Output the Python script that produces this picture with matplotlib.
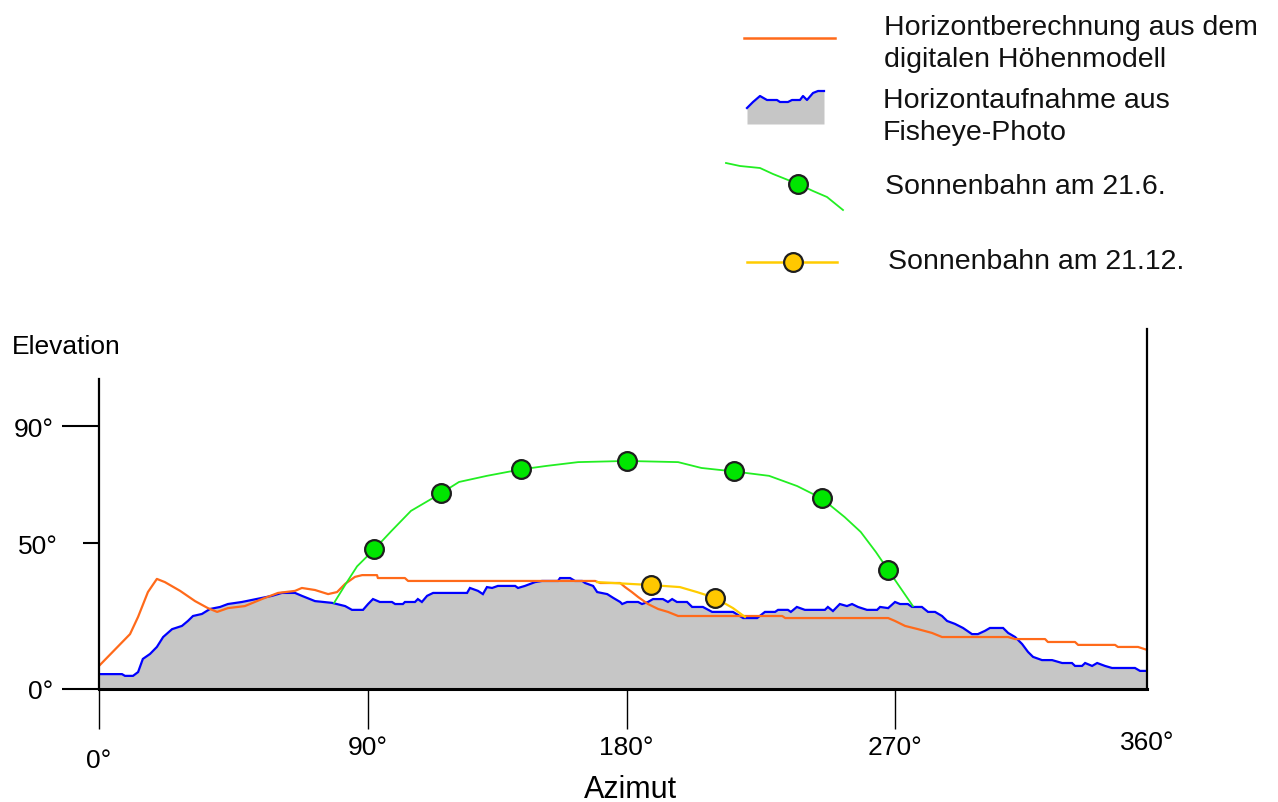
import numpy as np
import matplotlib
matplotlib.use("Agg")
import matplotlib.pyplot as plt
from matplotlib.transforms import ScaledTranslation

plt.rcParams['font.family'] = ['Liberation Sans', 'DejaVu Sans']

# ---------------- data (azimuth / elevation in degrees) ----------------
photo_az = [0, 7.7, 8.7, 11.4, 13.1, 14.7, 17.1, 19.4, 21.5, 24.5, 27.8, 29.8, 31.5, 34.5, 37.2,
            40.6, 43.2, 47.9, 51.3, 54.6, 58.0, 61.3, 65.7, 68.0, 72.4, 78.1, 82.5, 84.8, 88.5,
            90.2, 91.9, 94.3, 98.5, 99.6, 102.3, 103.0, 106.5, 107.5, 108.9, 110.7, 112.8, 124.6,
            125.6, 128.4, 130.1, 131.5, 133.3, 135.3, 141.3, 142.3, 144.7, 148.2, 150.6, 156.2,
            156.9, 160.4, 162.1, 164.6, 165.6, 168.4, 169.8, 173.3, 175.4, 177.8, 178.5, 180.2,
            183.9, 185.2, 187.2, 188.9, 192.2, 193.9, 195.3, 196.9, 200.3, 202.0, 205.6, 208.7,
            215.7, 219.1, 223.8, 226.4, 229.8, 230.8, 234.1, 235.1, 237.1, 239.8, 246.5, 247.5,
            249.2, 251.5, 253.9, 255.6, 257.6, 260.6, 264.0, 265.0, 267.7, 270.0, 271.8, 274.6,
            276.1, 279.6, 281.8, 284.3, 286.8, 288.6, 291.4, 294.3, 297.5, 299.6, 302.1, 303.9,
            308.6, 310.4, 312.9, 315.4, 317.5, 319.3, 322.5, 326.1, 329.7, 333.2, 334.3, 336.8,
            337.9, 340.4, 342.2, 345.0, 347.5, 355.7, 357.5, 360]
photo_el = [5.1, 5.1, 4.5, 4.5, 5.8, 10.3, 12.0, 14.4, 17.8, 20.5, 21.6, 23.3, 25.0, 25.7, 27.4,
            28.1, 29.1, 29.8, 30.5, 31.2, 31.9, 32.9, 32.9, 31.9, 30.1, 29.5, 28.4, 27.1, 27.1,
            29.1, 30.8, 29.8, 29.8, 29.1, 29.1, 29.8, 29.8, 30.8, 29.8, 31.9, 32.9, 32.9,
            34.6, 33.6, 32.5, 34.9, 34.6, 35.3, 35.3, 34.6, 35.3, 36.6, 37.0, 37.0,
            38.0, 38.0, 37.0, 37.0, 36.3, 35.3, 33.2, 32.5, 31.2, 29.8, 29.1, 29.8,
            29.8, 29.1, 29.8, 30.8, 30.8, 29.8, 30.8, 29.8, 29.8, 28.1, 28.1, 26.4,
            26.4, 24.3, 24.3, 26.4, 26.4, 27.1, 27.1, 26.4, 28.1, 27.1, 27.1, 28.1,
            26.7, 29.1, 28.4, 29.1, 28.1, 27.1, 27.1, 28.1, 27.7, 29.8, 29.1, 29.1,
            28.1, 28.1, 26.4, 26.4, 25.0, 23.3, 22.3, 20.9, 18.8, 18.8, 19.9, 20.9,
            20.9, 19.2, 17.8, 15.4, 12.7, 11.0, 9.9, 9.9, 8.9, 8.9, 7.9, 7.9,
            8.9, 7.9, 8.9, 7.9, 7.2, 7.2, 6.2, 6.2]

dem_az = [0, 10.4, 13.1, 16.4, 19.4, 22.1, 27.2, 32.2, 36.5, 39.6, 43.2, 48.9, 54.6, 60.0, 65.7,
          68.0, 72.4, 76.8, 79.8, 82.5, 85.8, 88.2, 93.3, 93.6, 103.0, 104.1, 169.1, 170.9, 177.8,
          179.5, 181.8, 183.9, 187.2, 190.6, 193.9, 197.3, 232.2, 233.2, 267.7, 270.0, 273.6,
          278.2, 283.2, 286.8, 310.4, 312.9, 323.6, 324.6, 334.3, 335.4, 348.6, 349.6, 356.8, 360]
dem_el = [7.9, 18.8, 24.7, 33.2, 37.7, 36.6, 33.6, 30.1, 27.7, 26.4, 27.7, 28.4, 30.8, 32.9, 33.6,
          34.6, 33.9, 32.5, 33.2, 36.0, 38.4, 39.0, 39.0, 38.0, 38.0, 37.0, 37.0, 36.3, 36.3,
          34.9, 33.2, 31.5, 29.1, 27.4, 26.4, 25.0, 25.0, 24.3, 24.3, 23.3, 21.6,
          20.5, 19.2, 17.8, 17.8, 17.1, 17.1, 16.1, 16.1, 15.1, 15.1, 14.4, 14.4, 13.4]

sun_jun_path_az = [78.8, 83.1, 86.5, 92.3, 98.3, 105.1, 115.5, 121.8, 131.5, 143.3, 152.2, 163.2,
                   180.1, 197.3, 205.1, 216.0, 227.8, 237.2, 245.4, 253.1, 258.5, 263.6, 267.8, 276.4]
sun_jun_path_el = [29.5, 36.6, 42.0, 47.8, 54.1, 61.0, 67.0, 70.9, 73.0, 75.2, 76.4, 77.7,
                   78.1, 77.7, 75.7, 74.5, 73.0, 69.5, 65.3, 58.9, 53.8, 46.9, 40.6, 28.4]
sun_jun_hour_az = [92.3, 115.5, 143.3, 180.1, 216.0, 245.4, 267.8]
sun_jun_hour_el = [47.8, 67.0, 75.2, 78.1, 74.5, 65.3, 40.6]

sun_dec_path_az = [169.8, 188.2, 197.9, 203.6, 209.7, 215.7, 219.7]
sun_dec_path_el = [36.6, 35.6, 34.9, 33.2, 31.2, 27.7, 24.7]
sun_dec_hour_az = [188.2, 209.7]
sun_dec_hour_el = [35.6, 31.2]

x_ticks = [0, 90, 180, 270, 360]
x_tick_labels = ['0°', '90°', '180°', '270°', '360°']
y_ticks = [0, 90]
y_tick_labels = ['0°', '90°']
y_minor_ticks = [50]
y_minor_labels = ['50°']

legend_labels = ['Horizontberechnung aus dem\ndigitalen Höhenmodell',
                 'Horizontaufnahme aus\nFisheye-Photo',
                 'Sonnenbahn am 21.6.',
                 'Sonnenbahn am 21.12.']

# ---------------- style ----------------
ORANGE = '#FF6A1A'
BLUE = '#0000FF'
GRAY = '#C6C6C6'
GREEN = '#22EE22'
GREEN_FILL = '#00E600'
YELLOW = '#FFCC00'
YELLOW_FILL = '#FFC800'
EDGE = '#1E1E1E'

W, H = 1278, 803
fig = plt.figure(figsize=(W / 100, H / 100), dpi=100)
ax = fig.add_axes([99 / W, 1 - 690 / H, (1147 - 99) / W, 310 / H])

# hand-drawn azimuth axis: tick marks are not evenly spaced in the original
AZ_NODES = np.array([0, 90, 180, 270, 360], float)
AZ_PX = np.array([99, 367.5, 626.5, 895, 1147], float)


def fwd(a):
    a = np.asarray(a, float)
    out = np.interp(a, AZ_NODES, AZ_PX)
    out = np.where(a < 0, AZ_PX[0] + a * (AZ_PX[1] - AZ_PX[0]) / 90, out)
    out = np.where(a > 360, AZ_PX[-1] + (a - 360) * (AZ_PX[-1] - AZ_PX[-2]) / 90, out)
    return out


def inv(p):
    p = np.asarray(p, float)
    out = np.interp(p, AZ_PX, AZ_NODES)
    out = np.where(p < AZ_PX[0], (p - AZ_PX[0]) * 90 / (AZ_PX[1] - AZ_PX[0]), out)
    out = np.where(p > AZ_PX[-1], 360 + (p - AZ_PX[-1]) * 90 / (AZ_PX[-1] - AZ_PX[-2]), out)
    return out


ax.set_xscale('function', functions=(fwd, inv))
ax.set_xlim(0, 360)
ax.set_ylim(0, 310 / 2.92)

ax.fill_between(photo_az, 0, photo_el, color=GRAY, lw=0, zorder=1)
ax.plot(photo_az, photo_el, color=BLUE, lw=1.6, zorder=2, solid_joinstyle='miter')
ax.plot(dem_az, dem_el, color=ORANGE, lw=1.6, zorder=3)
ax.plot(sun_jun_path_az, sun_jun_path_el, color=GREEN, lw=1.3, zorder=4)
ax.plot(sun_dec_path_az, sun_dec_path_el, color=YELLOW, lw=1.6, zorder=4)
ax.plot(sun_jun_hour_az, sun_jun_hour_el, ls='none', marker='o', ms=13.5,
        mfc=GREEN_FILL, mec=EDGE, mew=1.6, zorder=6)
ax.plot(sun_dec_hour_az, sun_dec_hour_el, ls='none', marker='o', ms=13.5,
        mfc=YELLOW_FILL, mec=EDGE, mew=1.6, zorder=6)

# spines
ax.spines['top'].set_visible(False)
ax.spines['left'].set_linewidth(1.6)
ax.spines['bottom'].set_linewidth(2.2)
ax.spines['right'].set_linewidth(1.6)
ax.spines['right'].set_bounds(0, (690 - 330) / 2.92)
for s in ax.spines.values():
    s.set_zorder(7)

# ticks
ax.set_xticks(x_ticks, labels=x_tick_labels)
ax.tick_params(axis='x', which='major', length=28.8, width=1.0, pad=4, labelsize=19)
ax.set_yticks(y_ticks, labels=y_tick_labels)
ax.set_yticks(y_minor_ticks, labels=y_minor_labels, minor=True)
ax.tick_params(axis='y', which='major', length=26.6, width=1.5, pad=6, labelsize=19)
ax.tick_params(axis='y', which='minor', length=11.5, width=1.5, pad=18, labelsize=19)

xt = ax.xaxis.get_major_ticks()
xt[0].label1.set_transform(xt[0].label1.get_transform() +
                           ScaledTranslation(0, -0.13, fig.dpi_scale_trans))
xt[-1].tick1line.set_visible(False)
xt[-1].label1.set_transform(xt[-1].label1.get_transform() +
                            ScaledTranslation(0, 0.05, fig.dpi_scale_trans))

ax.set_xlabel('Azimut', fontsize=22, va='center')
ax.xaxis.set_label_coords((630 - 99) / 1048, (690 - 790) / 310)
ax.set_ylabel('Elevation', fontsize=19, rotation=0, ha='left', va='center')
ax.yaxis.set_label_coords((12 - 99) / 1048, (690 - 347) / 310)

# ---------------- legend (drawn in figure pixel space) ----------------
lax = fig.add_axes([0, 0, 1, 1])
lax.set_xlim(0, W)
lax.set_ylim(H, 0)
lax.axis('off')
lax.patch.set_visible(False)

LEG_DEM = dict(x=[744, 835], y=[39, 39])
LEG_PHOTO = dict(x=[747, 753, 760, 767, 777, 780, 788, 792, 800, 803, 807, 813, 818, 824],
                 y=[109, 103, 97, 101, 101, 103, 103, 101, 101, 97, 101, 94, 92, 92], bottom=125)
LEG_JUN = dict(x=[726, 740, 760, 773, 798, 813, 827, 843], y=[164, 167, 169, 175, 185, 192, 198, 211],
               mx=798, my=185)
LEG_DEC = dict(x=[747, 837], y=[263, 263], mx=793, my=263)
LEG_TEXT = [(884, 44), (883, 117), (885, 187), (888, 262)]

lax.plot(LEG_DEM['x'], LEG_DEM['y'], color=ORANGE, lw=1.8)
lax.fill_between(LEG_PHOTO['x'], LEG_PHOTO['bottom'], LEG_PHOTO['y'], color=GRAY, lw=0)
lax.plot(LEG_PHOTO['x'], LEG_PHOTO['y'], color=BLUE, lw=1.6)
lax.plot(LEG_JUN['x'], LEG_JUN['y'], color=GREEN, lw=1.3)
lax.plot([LEG_JUN['mx']], [LEG_JUN['my']], marker='o', ms=13.5, mfc=GREEN_FILL, mec=EDGE, mew=1.6)
lax.plot(LEG_DEC['x'], LEG_DEC['y'], color=YELLOW, lw=1.8)
lax.plot([LEG_DEC['mx']], [LEG_DEC['my']], marker='o', ms=13.5, mfc=YELLOW_FILL, mec=EDGE, mew=1.6)
for (tx, ty), lab in zip(LEG_TEXT, legend_labels):
    lax.text(tx, ty, lab, fontsize=20.5, ha='left', va='center', linespacing=1.3, color='#111111')

fig.savefig('out.png', dpi=100)
